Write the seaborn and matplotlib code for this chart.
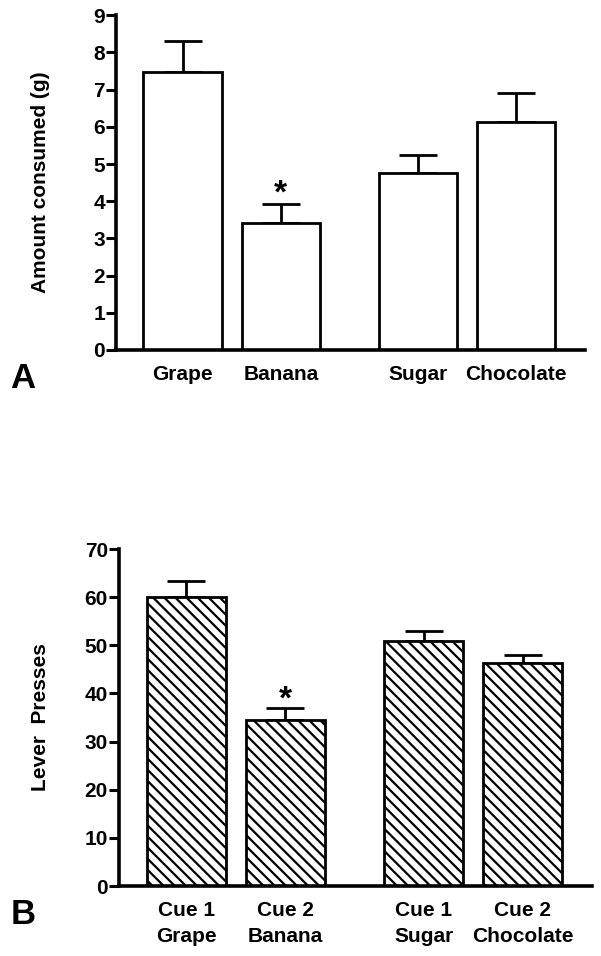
# Two-panel bar chart: amount consumed (A) and lever presses (B)
import numpy as np
import matplotlib
matplotlib.use("Agg")
import matplotlib.pyplot as plt
import seaborn as sns

# Data
positions = [0, 1, 2.4, 3.4]

foods = ["Grape", "Banana", "Sugar", "Chocolate"]
consumed = [7.48, 3.40, 4.75, 6.12]
consumed_sem = [0.83, 0.52, 0.49, 0.78]

cue_labels = ["Cue 1\nGrape", "Cue 2\nBanana", "Cue 1\nSugar", "Cue 2\nChocolate"]
presses = [60.0, 34.5, 50.9, 46.3]
presses_sem = [3.3, 2.4, 2.1, 1.6]

sns.set_style("ticks", {"axes.edgecolor": "black", "text.color": "black",
                        "xtick.color": "black", "ytick.color": "black",
                        "axes.labelcolor": "black"})
plt.rcParams['font.family'] = ['Liberation Sans', 'DejaVu Sans']
plt.rcParams['font.weight'] = 'bold'
plt.rcParams['hatch.linewidth'] = 1.6

fig = plt.figure(figsize=(6.01, 9.56), dpi=100)
ax1 = fig.add_axes([0.193, 0.634, 0.780, 0.350])
ax2 = fig.add_axes([0.198, 0.0732, 0.787, 0.3525])


def draw_panel(ax, vals, sems, labels, ylim, yticks, ylabel, hatch, labelpad, star_y):
    sns.barplot(x=positions, y=vals, native_scale=True, ax=ax, color="white",
                edgecolor="black", linewidth=2.0, hatch=hatch, errorbar=None, zorder=2)
    ax.errorbar(positions, vals, yerr=[np.zeros(len(vals)), sems], fmt="none",
                ecolor="black", elinewidth=2.0, capsize=14, capthick=2.0, zorder=1)
    ax.text(positions[1], star_y, "*", ha="center", va="center", fontsize=24,
            fontweight="bold")
    ax.set_xlim(-0.68, 4.10)
    ax.set_ylim(*ylim)
    ax.set_yticks(yticks)
    ax.set_xticks(positions)
    ax.set_xticklabels(labels, fontsize=15, fontweight="bold", linespacing=1.45)
    ax.set_ylabel(ylabel, fontsize=15, fontweight="bold", labelpad=labelpad)
    ax.tick_params(axis="y", direction="out", length=7, width=2.2, labelsize=15, pad=1)
    ax.tick_params(axis="x", length=0, pad=11)
    for lab in ax.get_yticklabels():
        lab.set_fontweight("bold")
    sns.despine(ax=ax)
    for side in ["left", "bottom"]:
        ax.spines[side].set_linewidth(2.6)
    ax.spines["left"].set_zorder(3)


draw_panel(ax1, consumed, consumed_sem, foods, (0, 9), range(0, 10),
           "Amount consumed (g)", None, 31, 4.2)
draw_panel(ax2, presses, presses_sem, cue_labels, (0, 70), range(0, 80, 10),
           "Lever  Presses", "\\\\\\", 25, 38.7)

fig.text(0.038, 1 - 379 / 956, "A", fontsize=25, fontweight="bold", va="center", ha="center")
fig.text(0.038, 1 - 915 / 956, "B", fontsize=25, fontweight="bold", va="center", ha="center")

plt.savefig("out.png", dpi=100)
